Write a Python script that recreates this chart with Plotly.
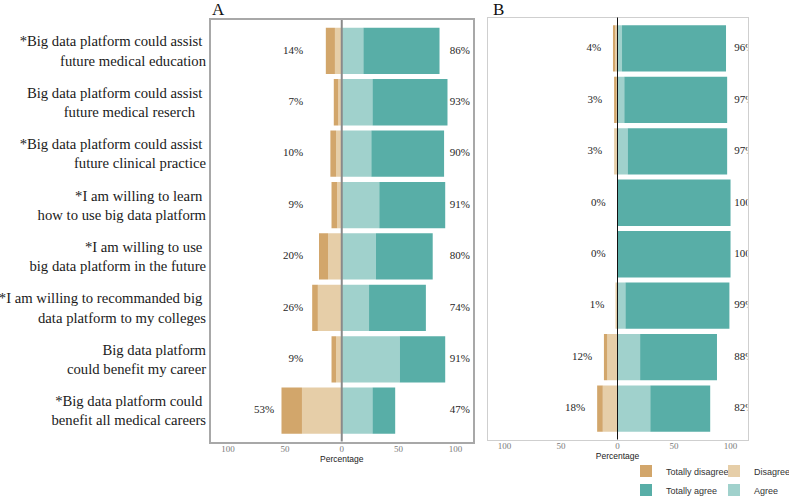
import plotly.graph_objects as go

# ------------------------------------------------------------------
# Data (percent of respondents per answer level)
# ------------------------------------------------------------------
ITEMS = [
    "*Big data platform could assist <br>future medical education",
    "Big data platform could assist <br>future medical reserch   ",
    "*Big data platform could assist <br>future clinical practice",
    "*I am willing to learn <br>how to use big data platform",
    "*I am willing to use <br>big data platform in the future",
    "*I am willing to recommanded big <br>data platform to my colleges",
    "Big data platform<br>could benefit my career",
    "*Big data platform could <br>benefit all medical careers",
]

# Panel A
a_totally_disagree = [8, 4, 5, 5, 8, 5, 4, 18]
a_disagree = [6, 3, 5, 4, 12, 21, 5, 35]
a_agree = [19, 27, 26, 33, 30, 24, 51, 27]
a_totally_agree = [67, 66, 64, 58, 50, 50, 40, 20]

# Panel B
b_totally_disagree = [2, 2, 0, 0, 0, 0, 3, 5]
b_disagree = [2, 1, 3, 0, 0, 1, 9, 13]
b_agree = [4, 6, 9, 0, 0, 7, 20, 29]
b_totally_agree = [92, 91, 88, 100, 100, 92, 68, 53]

TICK_VALS = [-100, -50, 0, 50, 100]
TICK_TEXT = ["100", "50", "0", "50", "100"]

# ------------------------------------------------------------------
# Style
# ------------------------------------------------------------------
COLORS = {
    "Totally disagree": "#D2A66B",
    "Disagree": "#E6CEA8",
    "Agree": "#A0D1CC",
    "Totally agree": "#58AEA7",
}
SERIF = "Liberation Serif, Times New Roman, serif"
SANS = "Liberation Sans, Arial, sans-serif"
W, H = 789, 497


def px_x(p):
    return p / W


def px_y(p):
    return 1 - p / H


fig = go.Figure()


def add_panel(td, d, a, ta, xa, ya, legend_on, low_rule, high_x):
    """Diverging stacked bars for one panel plus the percent labels."""
    xref = "x" if xa == 1 else f"x{xa}"
    yref = "y" if ya == 1 else f"y{ya}"
    series = [
        ("Disagree", [-v for v in d], "legend", 2),
        ("Totally disagree", [-v for v in td], "legend", 1),
        ("Agree", a, "legend2", 4),
        ("Totally agree", ta, "legend2", 3),
    ]
    for name, vals, leg, rank in series:
        fig.add_trace(
            go.Bar(
                y=ITEMS,
                x=vals,
                orientation="h",
                name=name,
                marker=dict(color=COLORS[name], line=dict(width=0)),
                showlegend=legend_on,
                legend=leg,
                legendrank=rank,
                xaxis=xref,
                yaxis=yref,
                hoverinfo="skip",
            )
        )

    low = [p + q for p, q in zip(td, d)]
    high = [p + q for p, q in zip(a, ta)]
    fig.add_trace(
        go.Scatter(
            y=ITEMS,
            x=[low_rule(v) for v in low],
            mode="text",
            text=[f"{v}%" for v in low],
            textposition="middle left",
            textfont=dict(family=SERIF, size=11, color="#262626"),
            showlegend=False,
            xaxis=xref,
            yaxis=yref,
            hoverinfo="skip",
        )
    )
    fig.add_trace(
        go.Scatter(
            y=ITEMS,
            x=[high_x] * len(high),
            mode="text",
            text=[f"{v}%" for v in high],
            textposition="middle right",
            textfont=dict(family=SERIF, size=11, color="#262626"),
            showlegend=False,
            cliponaxis=True,
            xaxis=xref,
            yaxis=yref,
            hoverinfo="skip",
        )
    )


add_panel(a_totally_disagree, a_disagree, a_agree, a_totally_agree, 1, 1, True,
          lambda v: min(-34, -v - 6.5), 95)
add_panel(b_totally_disagree, b_disagree, b_agree, b_totally_agree, 2, 2, False,
          lambda v: -v - 10.5, 103.3)

n = len(ITEMS)
xaxis_common = dict(
    range=[-115, 115],
    tickmode="array",
    tickvals=TICK_VALS,
    ticktext=TICK_TEXT,
    tickfont=dict(family=SERIF, size=9, color="#7a7a7a"),
    ticks="",
    ticklabelstandoff=-2,
    showgrid=False,
    zeroline=False,
    mirror=True,
    showline=True,
    automargin=False,
    title=dict(text="Percentage", font=dict(family=SANS, size=8.5, color="#222222"), standoff=0),
)
yaxis_common = dict(
    type="category",
    categoryorder="array",
    categoryarray=ITEMS,
    range=[n - 1 + 0.6, -0.6],
    ticks="",
    showgrid=False,
    zeroline=False,
    mirror=True,
    showline=True,
    automargin=False,
)

legend_common = dict(
    orientation="h", xanchor="left", yanchor="middle",
    font=dict(family=SANS, size=9, color="#333333"),
    bgcolor="rgba(0,0,0,0)", entrywidth=43, itemclick=False,
)

fig.update_layout(
    width=W,
    height=H,
    margin=dict(l=0, r=0, t=0, b=0, autoexpand=False),
    paper_bgcolor="white",
    plot_bgcolor="white",
    barmode="relative",
    bargap=0.1,
    xaxis=dict(domain=[px_x(211), px_x(472.5)], anchor="y",
               linecolor="#a8a8a8", linewidth=2, **xaxis_common),
    yaxis=dict(domain=[px_y(441.5), px_y(20)], anchor="x",
               linecolor="#a8a8a8", linewidth=2,
               tickfont=dict(family=SERIF, size=14.7, color="#1a1a1a"),
               **yaxis_common),
    xaxis2=dict(domain=[px_x(487.5), px_x(747.5)], anchor="y2",
                linecolor="#cfcfcf", linewidth=1, **xaxis_common),
    yaxis2=dict(domain=[px_y(439.5), px_y(17.5)], anchor="x2",
                linecolor="#cfcfcf", linewidth=1, showticklabels=False,
                **yaxis_common),
    legend=dict(x=px_x(626), y=px_y(471), **legend_common),
    legend2=dict(x=px_x(626), y=px_y(490), **legend_common),
    shapes=[
        dict(type="line", xref="x", yref="y domain", x0=0, x1=0, y0=0, y1=1,
             line=dict(color="#8a8a8a", width=2), layer="above"),
        dict(type="line", xref="x2", yref="y2 domain", x0=0, x1=0, y0=0, y1=1,
             line=dict(color="#111111", width=1), layer="above"),
    ],
    annotations=[
        dict(text="A", xref="paper", yref="paper", x=px_x(210), y=px_y(-2),
             xanchor="left", yanchor="top", showarrow=False,
             font=dict(family=SERIF, size=17, color="#111111")),
        dict(text="B", xref="paper", yref="paper", x=px_x(491), y=px_y(-2),
             xanchor="left", yanchor="top", showarrow=False,
             font=dict(family=SERIF, size=17, color="#111111")),
    ],
)

# the page body has a default 8px margin; drop it so the figure fills the window
fig.write_html(
    "out.html",
    config={"displayModeBar": False},
    post_script="document.body.style.margin='0';",
)
